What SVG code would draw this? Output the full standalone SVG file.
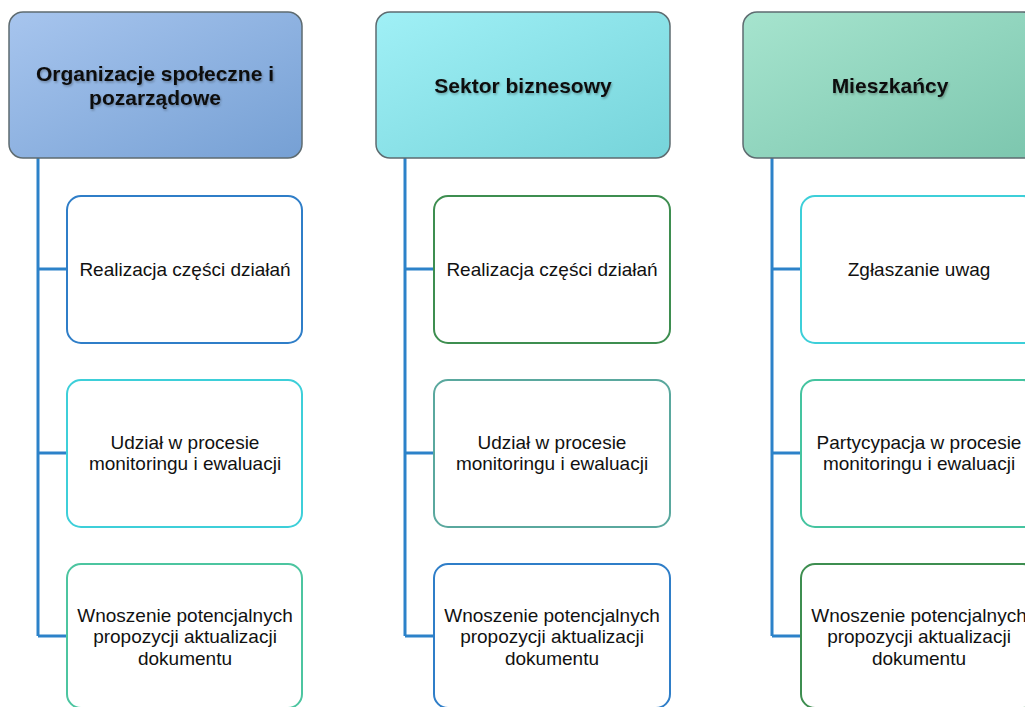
<svg xmlns="http://www.w3.org/2000/svg" width="1025" height="707" viewBox="0 0 1025 707">
<defs>
<linearGradient id="g1" x1="0" y1="0" x2="1" y2="1"><stop offset="0" stop-color="#A7C5EE"/><stop offset="1" stop-color="#76A0D4"/></linearGradient>
<linearGradient id="g2" x1="0" y1="0" x2="1" y2="1"><stop offset="0" stop-color="#A0F0F6"/><stop offset="1" stop-color="#76D4DA"/></linearGradient>
<linearGradient id="g3" x1="0" y1="0" x2="1" y2="1"><stop offset="0" stop-color="#A6E4CE"/><stop offset="1" stop-color="#7CC6AE"/></linearGradient>
<filter id="ts" x="-5%" y="-20%" width="110%" height="140%"><feDropShadow dx="1" dy="1.5" stdDeviation="1" flood-color="#000" flood-opacity="0.3"/></filter>
</defs>
<style>
.hdr{stroke:#5E6B70;stroke-width:1.5}
.ch{fill:#fff;stroke-width:2}
.ht{font-family:"Liberation Sans",Arial,sans-serif;font-weight:bold;font-size:21px;fill:#111;text-anchor:middle}
.ct{font-family:"Liberation Sans",Arial,sans-serif;font-size:19px;fill:#111;text-anchor:middle}
.con{fill:none;stroke:#2C82C9;stroke-width:3}
</style>
<rect width="1025" height="707" fill="#fff"/>
<g id="connectors">
<path class="con" d="M38 158 V636 M38 269 H67 M38 453 H67 M38 636 H67"/>
<path class="con" d="M405 158 V636 M405 269 H434 M405 453 H434 M405 636 H434"/>
<path class="con" d="M772 158 V636 M772 269 H801 M772 453 H801 M772 636 H801"/>
</g>
<g id="h1"><rect class="hdr" x="9" y="12" width="293" height="146" rx="14" fill="url(#g1)"/>
<text class="ht" filter="url(#ts)"><tspan x="155" y="81">Organizacje społeczne i</tspan><tspan x="155" y="105">pozarządowe</tspan></text></g>
<g id="h2"><rect class="hdr" x="376" y="12" width="294" height="146" rx="14" fill="url(#g2)"/>
<text class="ht" filter="url(#ts)" x="523" y="93">Sektor biznesowy</text></g>
<g id="h3"><rect class="hdr" x="743" y="12" width="294" height="146" rx="14" fill="url(#g3)"/>
<text class="ht" filter="url(#ts)" x="890" y="93">Mieszkańcy</text></g>

<g id="c1r1"><rect class="ch" x="67" y="196" width="235" height="147" rx="14" stroke="#2F7EC8"/>
<text class="ct" x="185" y="276">Realizacja części działań</text></g>
<g id="c1r2"><rect class="ch" x="67" y="380" width="235" height="147" rx="14" stroke="#3DCFD9"/>
<text class="ct"><tspan x="185" y="449">Udział w procesie</tspan><tspan x="185" y="470">monitoringu i ewaluacji</tspan></text></g>
<g id="c1r3"><rect class="ch" x="67" y="564" width="235" height="144" rx="14" stroke="#4CC5A0"/>
<text class="ct"><tspan x="185" y="622">Wnoszenie potencjalnych</tspan><tspan x="185" y="643">propozycji aktualizacji</tspan><tspan x="185" y="665">dokumentu</tspan></text></g>

<g id="c2r1"><rect class="ch" x="434" y="196" width="236" height="147" rx="14" stroke="#3E8E50"/>
<text class="ct" x="552" y="276">Realizacja części działań</text></g>
<g id="c2r2"><rect class="ch" x="434" y="380" width="236" height="147" rx="14" stroke="#5AA89E"/>
<text class="ct"><tspan x="552" y="449">Udział w procesie</tspan><tspan x="552" y="470">monitoringu i ewaluacji</tspan></text></g>
<g id="c2r3"><rect class="ch" x="434" y="564" width="236" height="144" rx="14" stroke="#2F7EC8"/>
<text class="ct"><tspan x="552" y="622">Wnoszenie potencjalnych</tspan><tspan x="552" y="643">propozycji aktualizacji</tspan><tspan x="552" y="665">dokumentu</tspan></text></g>

<g id="c3r1"><rect class="ch" x="801" y="196" width="236" height="147" rx="14" stroke="#3DCFD9"/>
<text class="ct" x="919" y="276">Zgłaszanie uwag</text></g>
<g id="c3r2"><rect class="ch" x="801" y="380" width="236" height="147" rx="14" stroke="#45C4A0"/>
<text class="ct"><tspan x="919" y="449">Partycypacja w procesie</tspan><tspan x="919" y="470">monitoringu i ewaluacji</tspan></text></g>
<g id="c3r3"><rect class="ch" x="801" y="564" width="236" height="144" rx="14" stroke="#3E8E50"/>
<text class="ct"><tspan x="919" y="622">Wnoszenie potencjalnych</tspan><tspan x="919" y="643">propozycji aktualizacji</tspan><tspan x="919" y="665">dokumentu</tspan></text></g>
</svg>
